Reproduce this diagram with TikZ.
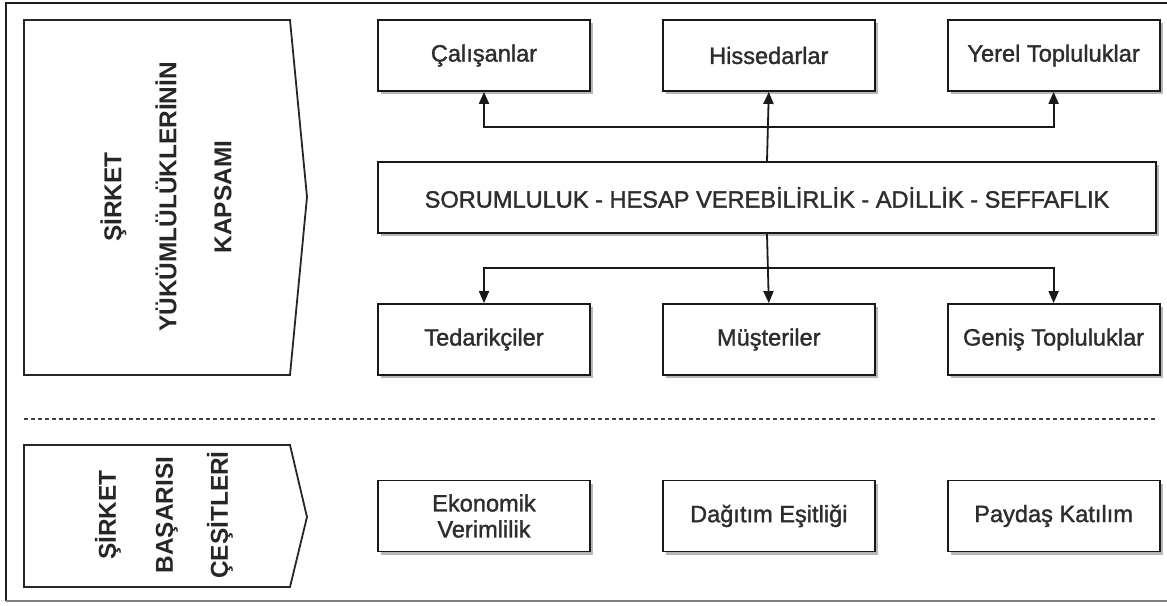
\documentclass[tikz,border=0pt]{standalone}
\usepackage{fontspec}
\setmainfont{Liberation Sans}
\newfontfamily\boxfont{Liberation Sans}[FakeBold=1.4]
\usetikzlibrary{positioning,arrows.meta,shadows}
\definecolor{boxtext}{RGB}{45,45,45}
\definecolor{framegray}{RGB}{30,30,30}

\begin{document}
\begin{tikzpicture}[x=0.5pt,y=-0.5pt,
    every node/.style={font=\boxfont\fontsize{11.8}{13}\selectfont,text=boxtext},
    box/.style={draw=black!90,line width=0.9pt,fill=white,minimum width=106pt,minimum height=35.5pt,inner sep=0pt,align=center,
      drop shadow={shadow xshift=1.6pt,shadow yshift=-1.6pt,fill=black!40,opacity=0.7}},
    arr/.style={-{Stealth[length=6pt,width=5pt,inset=0pt]},line width=0.9pt,black!90},
    sidelabel/.style={rotate=90,align=center,font=\fontsize{12.2}{14}\selectfont\bfseries,text=black!85}]
  \useasboundingbox (0,0) rectangle (1167,605);
  % frame
  \draw[framegray,line width=0.9pt] (1180,3) -- (6,3) -- (6,601);
  \draw[gray,line width=0.9pt] (6,601) -- (1180,601);
  % left markers
  \draw[line width=0.9pt,black!85] (24,20) -- (290,20) -- (307,197) -- (290,375) -- (24,375) -- cycle;
  \node[sidelabel] (kapsam) at (166,197) {ŞİRKET\\[13.5pt]YÜKÜMLÜLÜKLERİNİN\\[13.5pt]KAPSAMI};
  \draw[line width=0.9pt,black!85] (24,445) -- (290,445) -- (307,517) -- (290,587) -- (24,587) -- cycle;
  \node[sidelabel] (basari) at (164,515) {ŞİRKET\\[14.5pt]BAŞARISI\\[13.5pt]ÇEŞİTLERİ};
  \draw[black!75,line width=0.8pt,dash pattern=on 2pt off 1.5pt] (24,419) -- (1155,419);

  % stakeholders
  \node[box] (cal) at (484,55.5) {Çalışanlar};
  \node[box,right=35.5pt of cal] (his) {Hissedarlar};
  \node[box,right=35.5pt of his] (yer) {Yerel Topluluklar};
  \node[box,minimum width=389pt] (ilke) at (767,197.5) {SORUMLULUK - HESAP VEREBİLİRLİK - ADİLLİK - SEFFAFLIK};
  \node[box] (ted) at (484,339.5) {Tedarikçiler};
  \node[box,right=35.5pt of ted] (mus) {Müşteriler};
  \node[box,right=35.5pt of mus] (gen) {Geniş Topluluklar};

  % success types
  \node[box] (eko) at (484,516) {Ekonomik\\Verimlilik};
  \node[box,right=35.5pt of eko] (dag) {Dağıtım Eşitliği};
  \node[box,right=35.5pt of dag] (pay) {Paydaş Katılım};

  \coordinate (upfork) at (767,127);
  \coordinate (downfork) at (767,268);
  \draw[arr] (ilke.north) -- (his.south);
  \draw[arr] (upfork) -| (cal);
  \draw[arr] (upfork) -| (yer);
  \draw[arr] (ilke.south) -- (mus.north);
  \draw[arr] (downfork) -| (ted);
  \draw[arr] (downfork) -| (gen);
\end{tikzpicture}
\end{document}
